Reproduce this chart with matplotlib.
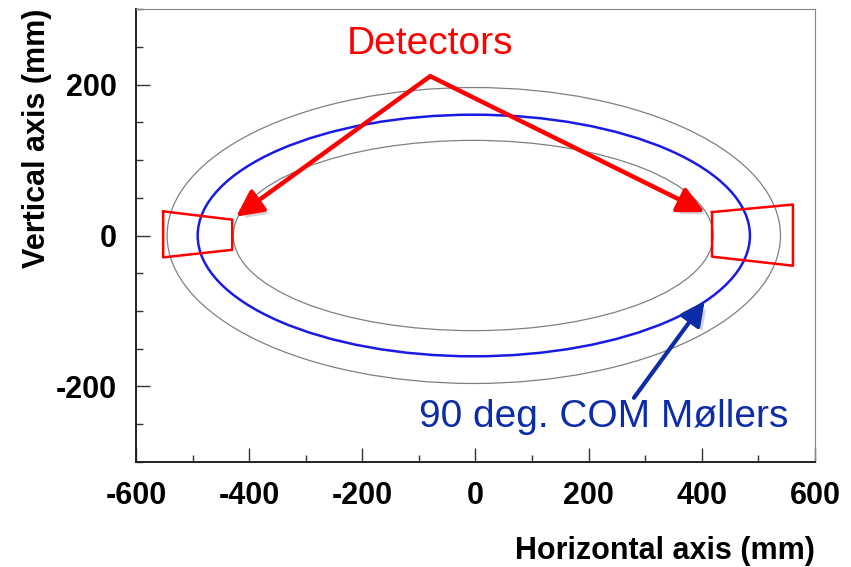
import matplotlib
matplotlib.use("Agg")
import matplotlib.pyplot as plt
import matplotlib.patheffects as pe
from matplotlib.patches import Ellipse, FancyArrowPatch
from matplotlib.ticker import MultipleLocator

plt.rcParams['font.family'] = ['Liberation Sans', 'DejaVu Sans']
plt.rcParams['axes.unicode_minus'] = False

# ellipses: (center x, center y, semi-axis x, semi-axis y) in mm
outer_ring = (-3, 0, 542, 196)
com90_ring = (-3, 0, 488, 160)
inner_ring = (-4, 0, 424, 126)

# detector outlines (mm)
left_det_x = [-552, -430, -430, -552, -552]
left_det_y = [32, 21, -19, -29, 32]
right_det_x = [418, 561, 561, 418, 418]
right_det_y = [31, 41, -40, -28, 31]

# annotations (mm)
det_apex = (-80, 211)
det_tips = [(-423, 25), (405, 31)]
moller_tail = (280, -215)
moller_tip = (405, -87)

fig = plt.figure(figsize=(8.51, 5.67), dpi=100)
ax = fig.add_axes([0.1598, 0.1852, 0.7979, 0.7989])
ax.set_xlim(-600, 600)
ax.set_ylim(-300, 300)

for cx, cy, a, b in [outer_ring, inner_ring]:
    ax.add_patch(Ellipse((cx, cy), 2 * a, 2 * b, fill=False, ec='#808080', lw=0.9))
cx, cy, a, b = com90_ring
ax.add_patch(Ellipse((cx, cy), 2 * a, 2 * b, fill=False, ec='#1a1ae6', lw=1.8))

ax.plot(left_det_x, left_det_y, color='#ff0000', lw=1.8)
ax.plot(right_det_x, right_det_y, color='#ff0000', lw=1.8)

shadow = [pe.SimplePatchShadow(offset=(3, -3), shadow_rgbFace='#888888', alpha=0.35), pe.Normal()]
for tip in det_tips:
    arr = FancyArrowPatch(det_apex, tip, arrowstyle='-|>,head_length=0.8,head_width=0.4',
                          mutation_scale=20, color='#ff0000', lw=3.2, shrinkA=0, shrinkB=0)
    arr.set_path_effects(shadow)
    ax.add_patch(arr)

arr = FancyArrowPatch(moller_tail, moller_tip, arrowstyle='-|>,head_length=0.8,head_width=0.4',
                      mutation_scale=18, color='#0d2ca8', lw=3.0, shrinkA=0, shrinkB=0)
arr.set_path_effects(shadow)
ax.add_patch(arr)

ax.text(-80, 253, 'Detectors', color='#ff0000', fontsize=28, ha='center', va='center')
ax.text(-100, -240, '90 deg. COM Møllers', color='#0d2ca8', fontsize=28, ha='left', va='center')

ax.xaxis.set_major_locator(MultipleLocator(200))
ax.xaxis.set_minor_locator(MultipleLocator(100))
ax.yaxis.set_major_locator(MultipleLocator(200))
ax.yaxis.set_minor_locator(MultipleLocator(50))
ax.tick_params(which='both', direction='in', color='#333333', width=1.0,
               labelsize=22, pad=14)
ax.tick_params(which='major', length=10)
ax.tick_params(which='minor', length=5)
for lab in ax.get_xticklabels() + ax.get_yticklabels():
    lab.set_fontweight('bold')

ax.spines['left'].set_color('#222222')
ax.spines['bottom'].set_color('#222222')
ax.spines['left'].set_linewidth(1.4)
ax.spines['bottom'].set_linewidth(1.4)
ax.spines['top'].set_color('#888888')
ax.spines['right'].set_color('#888888')

ax.set_xlabel('Horizontal axis (mm)', fontsize=22, fontweight='bold', loc='right')
ax.set_ylabel('Vertical axis (mm)', fontsize=22, fontweight='bold', loc='top')
ax.xaxis.set_label_coords(1.0, -0.163)
ax.yaxis.set_label_coords(-0.124, 1.0)

fig.savefig('out.png', dpi=100)
